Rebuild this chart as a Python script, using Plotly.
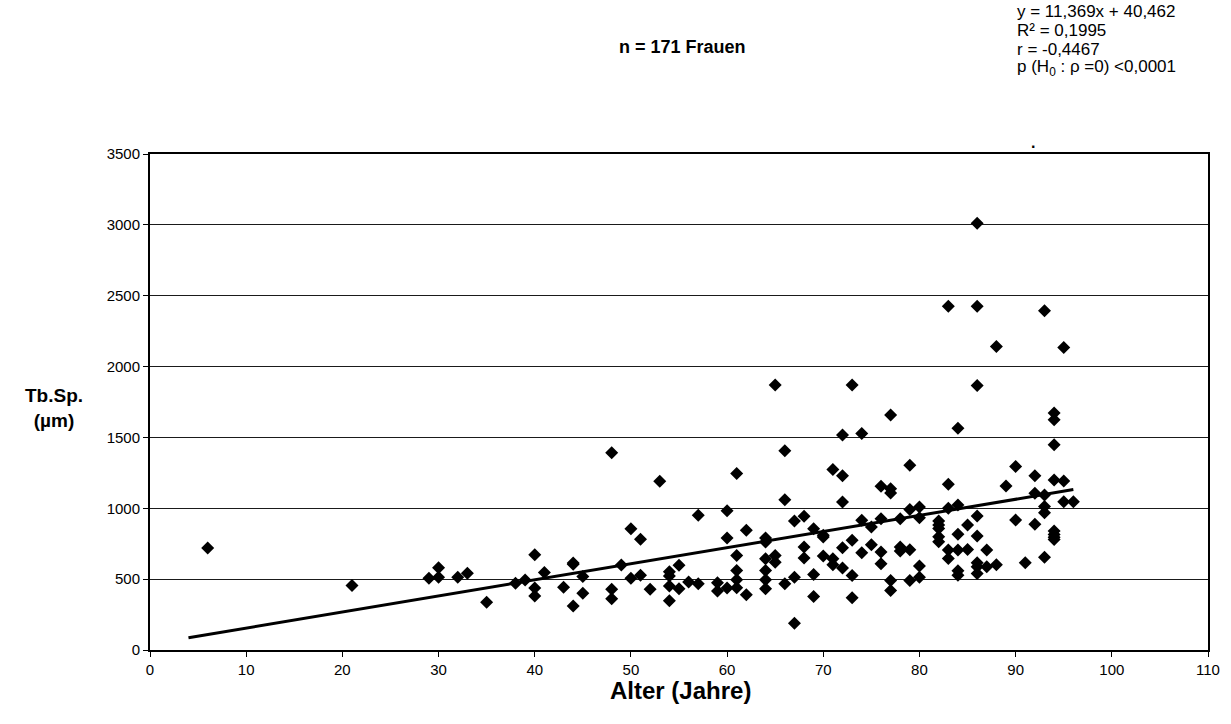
import plotly.graph_objects as go

# ---- data ----
age = [6, 21, 29, 30, 30, 32, 33, 35, 38, 39,
       40, 40, 40, 41, 43, 44, 44, 44, 45, 45,
       48, 48, 48, 49, 50, 50, 51, 51, 52, 53,
       54, 54, 54, 54, 55, 55, 56, 57, 57, 59, 59,
       60, 60, 60, 61, 61, 61, 61, 61, 62, 62,
       64, 64, 64, 64, 64, 64, 65, 65, 65, 66, 66, 66,
       67, 67, 67, 68, 68, 68, 69, 69, 69, 70, 70, 70,
       71, 71, 71, 72, 72, 72, 72, 72, 73, 73, 73, 73,
       74, 74, 74, 75, 75, 76, 76, 76, 76,
       77, 77, 77, 77, 77, 78, 78, 78, 79, 79, 79, 79,
       80, 80, 80, 80, 82, 82, 82, 82, 82,
       83, 83, 83, 83, 83, 84, 84, 84, 84, 84, 84, 85, 85,
       86, 86, 86, 86, 86, 86, 86, 86, 87, 87, 88, 88, 89,
       90, 90, 91, 92, 92, 92, 93, 93, 93, 93, 93,
       94, 94, 94, 94, 94, 94, 94, 94, 95, 95, 95, 96]
tbsp = [720, 455, 506, 581, 513, 513, 541, 337, 471, 494,
        673, 437, 381, 546, 442, 614, 605, 310, 518, 400,
        1392, 428, 362, 600, 856, 506, 781, 527, 428, 1190,
        553, 522, 452, 348, 598, 433, 480, 950, 468, 474, 417,
        982, 791, 437, 1245, 667, 561, 495, 439, 845, 390,
        790, 762, 644, 561, 495, 432, 1870, 667, 620, 1406, 1061, 467,
        910, 514, 189, 943, 726, 649, 856, 533, 377, 809, 797, 663,
        1274, 644, 601, 1517, 1229, 1045, 722, 578, 1870, 774, 526, 368,
        1528, 915, 686, 868, 743, 1156, 927, 691, 608,
        1658, 1137, 1108, 491, 420, 927, 726, 698, 1304, 991, 708, 491,
        1009, 934, 592, 514, 910, 882, 858, 800, 764,
        2425, 1170, 1000, 705, 646, 1564, 1024, 816, 705, 559, 528, 882, 710,
        3012, 2425, 1866, 946, 804, 615, 587, 540, 705, 587, 2142, 601, 1158,
        1295, 917, 615, 1229, 1106, 887, 2394, 1094, 1012, 969, 654,
        1672, 1625, 1448, 1200, 840, 815, 795, 780, 2134, 1193, 1047, 1047]

trend_slope = 11.369
trend_intercept = 40.462
trend_x = [4, 96]
trend_y = [trend_slope * v + trend_intercept for v in trend_x]

x_ticks = list(range(0, 111, 10))
y_ticks = list(range(0, 3501, 500))

stats_lines = ["y = 11,369x + 40,462",
               "R² = 0,1995",
               "r = -0,4467",
               "p (H<sub>0</sub> : ρ =0) <0,0001"]
title_text = "<b>n = 171 Frauen</b>"
x_title = "<b>Alter (Jahre)</b>"
y_title = "<b>Tb.Sp.<br>(µm)</b>"

FONT = "Liberation Sans, Arial, sans-serif"

fig = go.Figure()
fig.add_trace(go.Scatter(x=age, y=tbsp, mode="markers",
                         marker=dict(symbol="diamond", size=10, color="black",
                                     line=dict(width=0)),
                         showlegend=False, hoverinfo="x+y"))
fig.add_trace(go.Scatter(x=trend_x, y=trend_y, mode="lines",
                         line=dict(color="black", width=3),
                         showlegend=False, hoverinfo="skip"))

L, R, T, B = 150, 23, 154, 74
W, H = 1231, 724
pw, ph = W - L - R, H - T - B

def px(xp):
    return (xp - L) / pw

def py(yp):
    return (H - B - yp) / ph

fig.update_layout(
    width=W, height=H,
    margin=dict(l=L, r=R, t=T, b=B, pad=0),
    paper_bgcolor="white", plot_bgcolor="white",
    font=dict(family=FONT, size=14, color="black"),
    xaxis=dict(range=[0, 110], tickvals=x_ticks, ticks="outside", ticklen=5,
               tickcolor="black", tickwidth=1, showline=True, linecolor="black",
               linewidth=2, mirror=True, showgrid=False, zeroline=False,
               tickfont=dict(size=15), fixedrange=True),
    yaxis=dict(range=[0, 3500], tickvals=y_ticks, ticks="outside", ticklen=5,
               tickcolor="black", tickwidth=1, showline=True, linecolor="black",
               linewidth=2, mirror=True, showgrid=True, gridcolor="#1a1a1a",
               gridwidth=1, zeroline=False, tickfont=dict(size=15),
               fixedrange=True),
)

ann = []
ann.append(dict(text=title_text, x=px(682), y=py(47), xref="paper", yref="paper",
                showarrow=False, xanchor="center", yanchor="middle",
                font=dict(size=18)))
for t, yy in zip(stats_lines, [11, 30, 49, 68]):
    ann.append(dict(text=t, x=px(1015), y=py(yy), xref="paper", yref="paper",
                    showarrow=False, xanchor="left", yanchor="middle",
                    font=dict(size=17)))
ann.append(dict(text="<b>.</b>", x=px(1033), y=py(143), xref="paper", yref="paper",
                showarrow=False, xanchor="center", yanchor="middle",
                font=dict(size=16)))
ann.append(dict(text=x_title, x=px(680), y=py(690), xref="paper", yref="paper",
                showarrow=False, xanchor="center", yanchor="middle",
                font=dict(size=24)))
ann.append(dict(text=y_title, x=px(54), y=py(408), xref="paper", yref="paper",
                showarrow=False, xanchor="center", yanchor="middle",
                font=dict(size=19)))
fig.update_layout(annotations=ann)

fig.write_html("out.html")
